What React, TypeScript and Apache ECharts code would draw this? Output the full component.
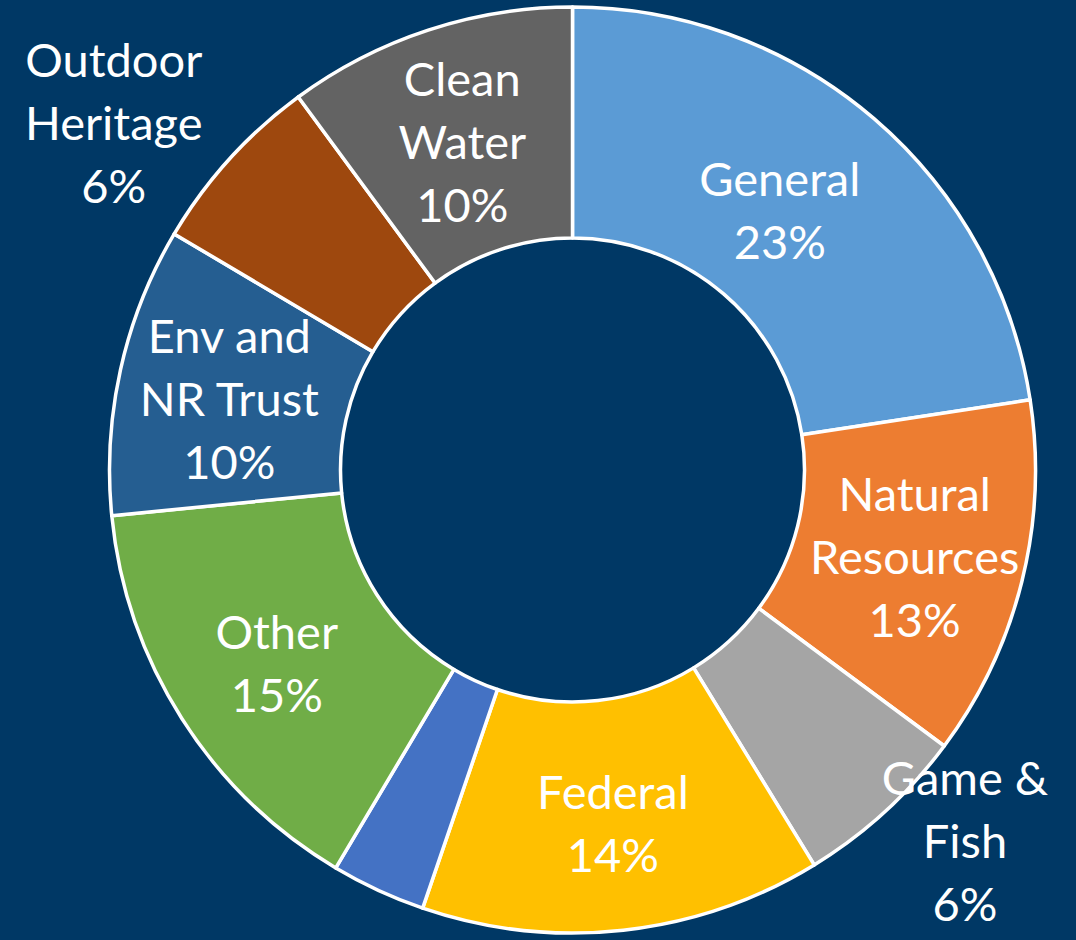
import React, { useEffect, useRef } from 'react';
import * as echarts from 'echarts';

// Categories (clockwise from 12 o'clock)
const categories = [
  'General',
  'Natural\nResources',
  'Game &\nFish',
  'Federal',
  '',
  'Other',
  'Env and\nNR Trust',
  'Outdoor\nHeritage',
  'Clean\nWater',
];
// Share of total (%)
const values = [22.6, 12.6, 6.1, 14.0, 3.3, 14.9, 10.1, 6.4, 10.1];
const colors = ['#5B9BD5', '#ED7D31', '#A5A5A5', '#FFC000', '#4472C4', '#70AD47', '#255E91', '#9E480E', '#636363'];
// Label nudges relative to the default inside position
const labelOffsets = [[-21, 5], [2, 2], [156, 111], [2, 4], [0, 0], [0, 4], [-1, 4], [-199, -113], [-1, 4]];

export default function App() {
  const ref = useRef<HTMLDivElement>(null);
  useEffect(() => {
    if (!ref.current) return;
    const chart = echarts.init(ref.current, null, { renderer: 'svg' });
    chart.setOption({
      animation: false,
      backgroundColor: '#003865',
      series: [
        {
          type: 'pie',
          center: [572.5, 470],
          radius: [232, 463],
          startAngle: 90,
          clockwise: true,
          avoidLabelOverlap: false,
          labelLine: { show: false },
          itemStyle: { borderColor: '#FFFFFF', borderWidth: 3.5 },
          label: {
            show: true,
            position: 'inside',
            color: '#FFFFFF',
            fontFamily: 'Lato',
            fontSize: 47,
            lineHeight: 63,
            align: 'center',
            formatter: (p: any) => `${p.name}\n${Math.round(p.percent)}%`,
          },
          emphasis: { disabled: true },
          data: categories.map((name, i) => ({
            name,
            value: values[i],
            itemStyle: { color: colors[i] },
            label: name ? { offset: labelOffsets[i] } : { show: false },
          })),
        },
      ],
    });
    return () => chart.dispose();
  }, []);
  return (
    <div
      ref={ref}
      style={{ position: 'fixed', left: 0, top: 0, width: 1076, height: 940 }}
    />
  );
}
